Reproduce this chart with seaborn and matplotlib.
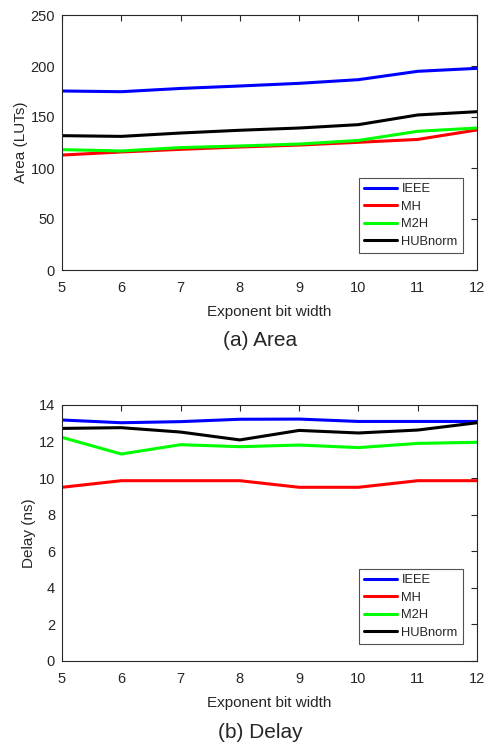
import numpy as np
import pandas as pd
import matplotlib
matplotlib.use("Agg")
import matplotlib.pyplot as plt
import seaborn as sns

exp_bits = [5, 6, 7, 8, 9, 10, 11, 12]
series_names = ["IEEE", "MH", "M2H", "HUBnorm"]

area_ieee = [175.5, 174.8, 178.0, 180.4, 183.0, 186.6, 194.8, 197.7]
area_mh = [112.7, 115.7, 118.3, 120.6, 122.5, 125.2, 128.0, 137.3]
area_m2h = [118.0, 116.7, 120.0, 121.6, 123.5, 127.0, 136.0, 139.2]
area_hub = [131.7, 131.0, 134.3, 137.0, 139.2, 142.5, 152.0, 155.2]

delay_ieee = [13.18, 13.03, 13.09, 13.22, 13.23, 13.10, 13.10, 13.10]
delay_mh = [9.50, 9.86, 9.86, 9.86, 9.50, 9.50, 9.86, 9.86]
delay_m2h = [12.23, 11.32, 11.83, 11.72, 11.81, 11.67, 11.90, 11.96]
delay_hub = [12.72, 12.76, 12.52, 12.09, 12.61, 12.47, 12.63, 13.03]

area_yticks = [0, 50, 100, 150, 200, 250]
delay_yticks = [0, 2, 4, 6, 8, 10, 12, 14]

colors = {"IEEE": "#0000ff", "MH": "#ff0000", "M2H": "#00ff00", "HUBnorm": "#000000"}

def long_df(vals):
    rows = []
    for name, v in zip(series_names, vals):
        for x, y in zip(exp_bits, v):
            rows.append({"x": x, "y": y, "series": name})
    return pd.DataFrame(rows)

df_area = long_df([area_ieee, area_mh, area_m2h, area_hub])
df_delay = long_df([delay_ieee, delay_mh, delay_m2h, delay_hub])

sns.set_theme(style="white")
plt.rcParams['font.family'] = ['Liberation Sans', 'DejaVu Sans']
txt = "#262626"

fig = plt.figure(figsize=(4.86, 7.44), dpi=100)
ax1 = fig.add_axes([62/486, 1-270/744, 415/486, 255/744])
ax2 = fig.add_axes([62/486, 1-661/744, 415/486, 256/744])

def style(ax, df, yticks, ylabel, caption, cap_y, ylpad):
    sns.lineplot(data=df, x="x", y="y", hue="series", hue_order=series_names,
                 palette=colors, linewidth=2.2, ax=ax, legend=True)
    ax.set_xlim(5, 12)
    ax.set_ylim(yticks[0], yticks[-1])
    ax.set_xticks(exp_bits)
    ax.set_yticks(yticks)
    ax.set_xlabel("Exponent bit width", fontsize=11, color=txt, labelpad=7)
    ax.set_ylabel(ylabel, fontsize=11, color=txt, labelpad=ylpad)
    ax.tick_params(direction="in", length=4, width=0.8, labelsize=10.5,
                   colors=txt, top=True, right=True)
    ax.tick_params(axis="x", pad=8)
    ax.tick_params(axis="y", pad=5)
    for s in ax.spines.values():
        s.set_color(txt)
        s.set_linewidth(0.8)
    leg = ax.legend(loc="lower right", bbox_to_anchor=(0.966, 0.067),
                    borderaxespad=0, fontsize=9.3, frameon=True, fancybox=False,
                    handlelength=2.55, handletextpad=0.35, labelspacing=0.42,
                    borderpad=0.4)
    leg.get_frame().set_edgecolor(txt)
    leg.get_frame().set_linewidth(0.8)
    for t in leg.get_texts():
        t.set_color(txt)
    fig.text(0.535, cap_y, caption, ha="center", va="center",
             fontsize=15, color=txt)

style(ax1, df_area, area_yticks, "Area (LUTs)", "(a) Area", 1-341/744, 2)
style(ax2, df_delay, delay_yticks, "Delay (ns)", "(b) Delay", 1-733/744, 2)

fig.savefig("out.png", dpi=100)
